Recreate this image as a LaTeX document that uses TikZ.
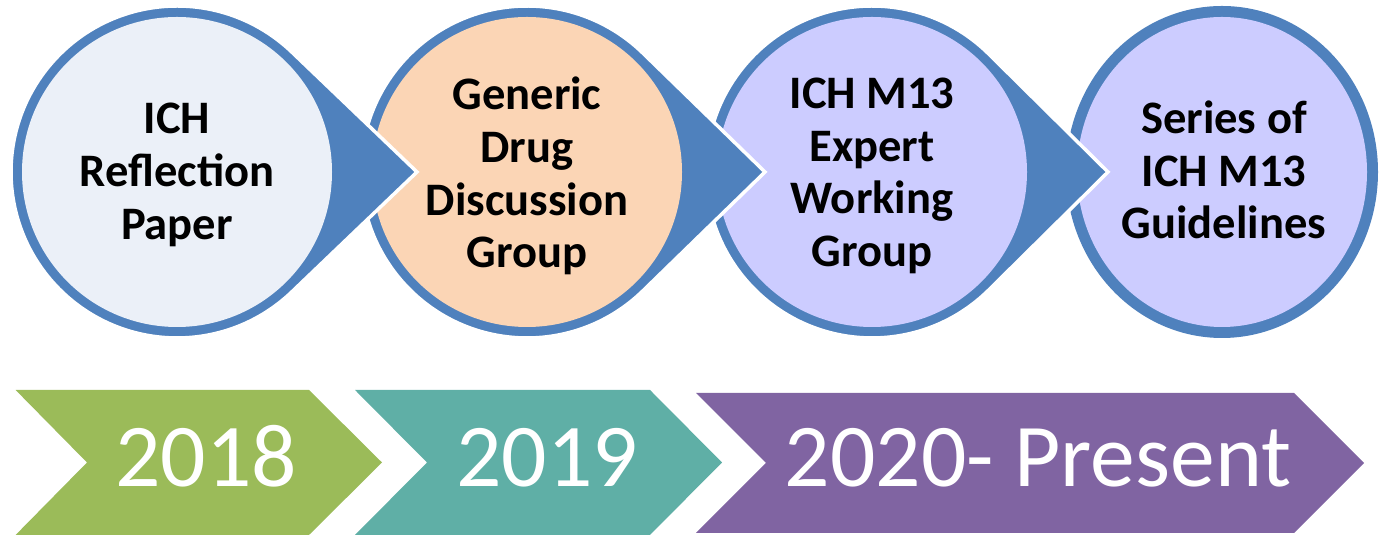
\documentclass[tikz,border=0pt]{standalone}
\usepackage{fontspec}
\setmainfont{Carlito}
\usetikzlibrary{calc}

\definecolor{ringblue}{HTML}{4F81BD}
\definecolor{paleblue}{HTML}{EBF0F8}
\definecolor{peach}{HTML}{FBD5B5}
\definecolor{lavender}{HTML}{CCCCFF}
\definecolor{yeargreen}{HTML}{9BBB59}
\definecolor{yearteal}{HTML}{5FAFA6}
\definecolor{yearpurple}{HTML}{8064A2}

\tikzset{
  drop/.style={fill=ringblue, draw=white, line width=0.07cm, line join=miter},
  steptext/.style={font=\bfseries\fontsize{26.5}{30}\selectfont, align=center, text=black, inner sep=0pt},
  yeartext/.style={font=\fontsize{51}{60}\selectfont, text=white, inner sep=0pt, anchor=base},
}

\begin{document}
\begin{tikzpicture}[x=0.02cm,y=0.02cm]
\useasboundingbox (0,0) rectangle (1383,536);

% Centres of the circles
\coordinate (c1) at (177,364);
\coordinate (c2) at (527,364);
\coordinate (c3) at (872,364);
\coordinate (c4) at (1222,364);

% Drawing last circle (no arrow)
\fill[ringblue] (c4) ellipse [x radius=156, y radius=166];
\fill[lavender] (c4) ellipse [x radius=145, y radius=155];

% Drawing drop 3 and its circle
\draw[drop] ($(c3)+(45.3:166)$) arc [start angle=45.3, end angle=314.7, radius=166]
  -- ($(c3)+(236,0)$) -- cycle;
\fill[lavender] (c3) circle [radius=155];

% Drawing drop 2 and its circle
\draw[drop] ($(c2)+(45.8:166)$) arc [start angle=45.8, end angle=314.2, radius=166]
  -- ($(c2)+(238,0)$) -- cycle;
\fill[peach] (c2) circle [radius=155];

% Drawing drop 1 and its circle
\draw[drop] ($(c1)+(46.2:166)$) arc [start angle=46.2, end angle=313.8, radius=166]
  -- ($(c1)+(240,0)$) -- cycle;
\fill[paleblue] (c1) circle [radius=155];

% Marking the step texts
\node[steptext] (paper) at (177,361) {ICH\\Reflection\\Paper};
\node[steptext] (dg) at (527,360) {Generic\\Drug\\Discussion\\Group};
\node[steptext] (ewg) at (872,360) {ICH M13\\Expert\\Working\\Group};
\node[steptext] (series) at (1224,366) {Series of\\ICH M13\\Guidelines};

% Drawing chevron 2018
\fill[yeargreen] (15.6,146) -- (309,146) -- (382,73.5) -- (309,1) -- (15.6,1) -- (87,73.5) -- cycle;
% Drawing chevron 2019
\fill[yearteal] (355,146) -- (650,146) -- (722,73.5) -- (650,1) -- (355,1) -- (427,73.5) -- cycle;
% Drawing chevron 2020
\fill[yearpurple] (696,143) -- (1294,143) -- (1364,73) -- (1294,3) -- (696,3) -- (766,73) -- cycle;

% Marking the years
\node[yeartext] (y18) at (206,49) {2018};
\node[yeartext] (y19) at (547,49) {2019};
\node[yeartext] (y20) at (1038,49) {2020- Present};
\end{tikzpicture}
\end{document}
